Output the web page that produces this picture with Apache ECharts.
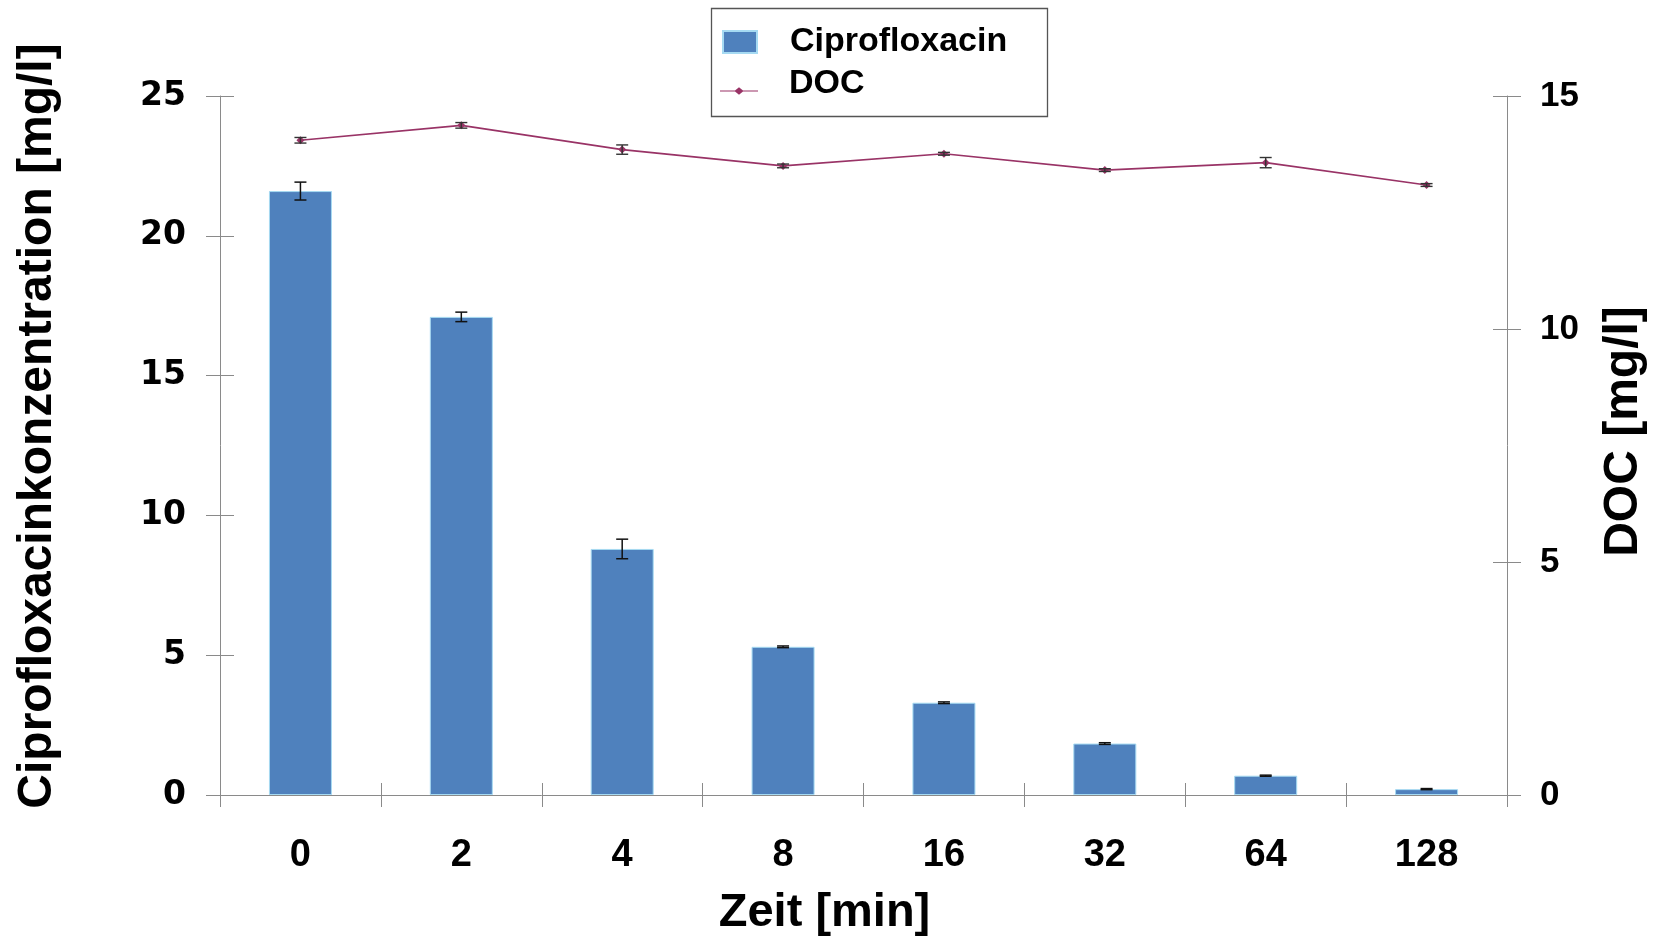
<!DOCTYPE html>
<html>
<head>
<meta charset="utf-8">
<script src="https://cdn.jsdelivr.net/npm/echarts@6/dist/echarts.min.js"></script>
<style>
html,body{margin:0;padding:0;background:#fff;}
#chart{width:1661px;height:937px;}
</style>
</head>
<body>
<div id="chart"></div>
<script>
const categories = ['0', '2', '4', '8', '16', '32', '64', '128'];
const cipro = [21.6, 17.1, 8.8, 5.3, 3.3, 1.84, 0.69, 0.21];
const ciproErr = [0.32, 0.17, 0.35, 0.03, 0.03, 0.03, 0.02, 0.02];
const doc = [14.05, 14.37, 13.85, 13.50, 13.76, 13.41, 13.57, 13.09];
const docErr = [0.06, 0.06, 0.10, 0.04, 0.03, 0.03, 0.11, 0.03];
const leftTicks = { min: 0, max: 25, interval: 5 };
const rightTicks = { min: 0, max: 15, interval: 5 };

const axisGray = '#8a8a8a';
const chart = echarts.init(document.getElementById('chart'), null, { renderer: 'canvas' });

function errData(vals, errs) {
  return vals.map((v, i) => [i, v - errs[i], v + errs[i]]);
}
function errRender(color, capW, lw) {
  return function (params, api) {
    const x = api.value(0);
    const lo = api.coord([x, api.value(1)]);
    const hi = api.coord([x, api.value(2)]);
    const style = { stroke: color, lineWidth: lw };
    return {
      type: 'group',
      children: [
        { type: 'line', shape: { x1: lo[0], y1: lo[1], x2: hi[0], y2: hi[1] }, style },
        { type: 'line', shape: { x1: lo[0] - capW / 2, y1: lo[1], x2: lo[0] + capW / 2, y2: lo[1] }, style },
        { type: 'line', shape: { x1: hi[0] - capW / 2, y1: hi[1], x2: hi[0] + capW / 2, y2: hi[1] }, style }
      ]
    };
  };
}

const font = 'Liberation Sans, Arial, sans-serif';
// legend icon for DOC: thin line with a small diamond, drawn low in a 38x22 box
const docIcon = 'path://M0,0 M38,22 M0,17.5 L15,17.5 L19,14.3 L23,17.5 L38,17.5 L38,18.5 L23,18.5 L19,21.7 L15,18.5 L0,18.5 Z';

const option = {
  animation: false,
  backgroundColor: '#fff',
  grid: { left: 220, right: 154, top: 96, bottom: 142, containLabel: false, outerBoundsMode: 'none' },
  graphic: [{
    type: 'rect', left: 709, top: 6, z: 10,
    shape: { width: 336, height: 108 },
    style: { fill: 'none', stroke: '#555', lineWidth: 1.3 }
  }],
  legend: [{
    data: [{ name: 'Ciprofloxacin', icon: 'rect' }],
    left: 722, top: 25, orient: 'vertical', padding: 0,
    itemWidth: 34, itemHeight: 22,
    textStyle: { fontFamily: font, fontWeight: 'bold', fontSize: 34, color: '#000', padding: [0, 0, 0, 28] }
  }, {
    data: [{ name: 'DOC', icon: docIcon }],
    left: 720, top: 67, orient: 'vertical', padding: 0,
    itemWidth: 38, itemHeight: 22,
    textStyle: { fontFamily: font, fontWeight: 'bold', fontSize: 34, color: '#000', padding: [0, 0, 0, 26] }
  }],
  xAxis: [{
    type: 'category', data: categories, position: 'bottom',
    axisLine: { lineStyle: { color: axisGray, width: 1 } },
    axisTick: { show: true, length: 12, lineStyle: { color: axisGray } },
    axisLabel: { fontFamily: font, fontWeight: 'bold', fontSize: 38, color: '#000', margin: 42 },
    name: 'Zeit [min]', nameLocation: 'middle', nameGap: 95,
    nameTextStyle: { fontFamily: font, fontWeight: 'bold', fontSize: 47, color: '#000', padding: [0, 78, 0, 0] }
  }, {
    type: 'category', data: categories, position: 'bottom',
    axisLine: { show: false },
    axisTick: { show: true, inside: true, length: 12, lineStyle: { color: axisGray } },
    axisLabel: { show: false }
  }],
  yAxis: [{
    type: 'value', position: 'left', ...leftTicks,
    axisLine: { show: true, lineStyle: { color: axisGray } },
    axisTick: { show: true, length: 14, lineStyle: { color: axisGray } },
    splitLine: { show: false },
    axisLabel: { fontFamily: 'DejaVu Sans', fontWeight: 'bold', fontSize: 33, color: '#000', margin: 34 },
    name: 'Ciprofloxacinkonzentration [mg/l]', nameLocation: 'middle', nameGap: 158,
    nameTextStyle: { fontFamily: font, fontWeight: 'bold', fontSize: 48, color: '#000', padding: [0, 0, 0, 39] }
  }, {
    type: 'value', position: 'right', ...rightTicks,
    axisLine: { show: true, lineStyle: { color: axisGray } },
    axisTick: { show: true, length: 14, lineStyle: { color: axisGray } },
    splitLine: { show: false },
    axisLabel: { fontFamily: font, fontWeight: 'bold', fontSize: 35, color: '#000', margin: 33 },
    name: 'DOC [mg/l]', nameLocation: 'middle', nameGap: 93,
    nameTextStyle: { fontFamily: font, fontWeight: 'bold', fontSize: 48, color: '#000', padding: [0, 0, 0, 28] }
  }, {
    type: 'value', position: 'left', ...leftTicks,
    axisLine: { show: false }, splitLine: { show: false }, axisLabel: { show: false },
    axisTick: { show: true, inside: true, length: 14, lineStyle: { color: axisGray } }
  }, {
    type: 'value', position: 'right', ...rightTicks,
    axisLine: { show: false }, splitLine: { show: false }, axisLabel: { show: false },
    axisTick: { show: true, inside: true, length: 14, lineStyle: { color: axisGray } }
  }],
  series: [{
    name: 'Ciprofloxacin', type: 'bar', data: cipro,
    xAxisIndex: 0, yAxisIndex: 0, barWidth: 63,
    itemStyle: { color: '#4F81BD', borderColor: '#a6daf2', borderWidth: 1 },
    z: 2
  }, {
    name: 'Ciprofloxacin err', type: 'custom', xAxisIndex: 0, yAxisIndex: 0,
    data: errData(cipro, ciproErr), encode: { x: 0, y: [1, 2] },
    renderItem: errRender('#111', 12, 1.5), z: 4, silent: true
  }, {
    name: 'DOC', type: 'line', data: doc,
    xAxisIndex: 0, yAxisIndex: 1,
    symbol: 'diamond', symbolSize: 8,
    lineStyle: { color: '#993366', width: 1.6 },
    itemStyle: { color: '#993366' },
    z: 5
  }, {
    name: 'DOC err', type: 'custom', xAxisIndex: 0, yAxisIndex: 1,
    data: errData(doc, docErr), encode: { x: 0, y: [1, 2] },
    renderItem: errRender('#333', 12, 1.4), z: 6, silent: true
  }]
};
chart.setOption(option);
</script>
</body>
</html>
